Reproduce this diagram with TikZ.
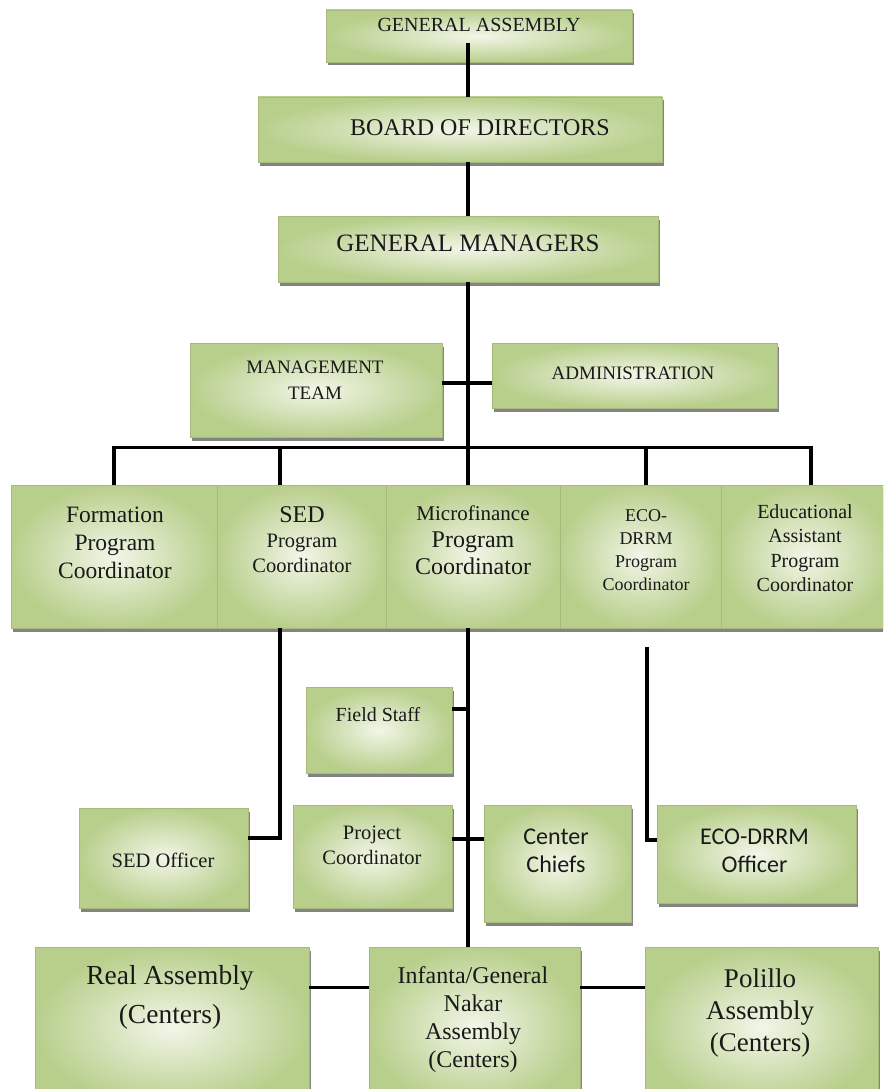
\documentclass[tikz,border=0pt]{standalone}
\usepackage{fontspec}
\setmainfont{Liberation Serif}
\newfontfamily\calibri{Carlito}
\usetikzlibrary{shadows}

\definecolor{boxgreen}{RGB}{184,207,140}
\definecolor{boxlite}{RGB}{242,246,232}

\tikzset{
	unit/.style={rectangle, inner sep=0pt, shade, inner color=boxlite, outer color=boxgreen,
		draw=boxgreen!90!black, line width=0.4pt,
		drop shadow={shadow xshift=2pt, shadow yshift=-3.5pt, fill=black!75, opacity=.65}},
	txt/.style={align=center, inner sep=0pt, text=black!90},
	link/.style={line width=3.2pt}
}

\begin{document}
\begin{tikzpicture}[x=1pt, y=-1pt]
	\useasboundingbox (0,0) rectangle (883,1089);
	\clip (0,0) rectangle (883,1089);

	% boxes
	\node[unit, minimum width=306pt, minimum height=52pt] (ga) at (479,36) {};
	\node[unit, minimum width=404pt, minimum height=65pt] (bod) at (460,129.5) {};
	\node[unit, minimum width=380pt, minimum height=66pt] (gm) at (468,249) {};
	\node[unit, minimum width=252pt, minimum height=94pt] (mt) at (316,390) {};
	\node[unit, minimum width=285pt, minimum height=65pt] (adm) at (634.5,375.5) {};

	\node[unit, minimum width=206pt, minimum height=143pt] (fpc) at (114,556.5) {};
	\node[unit, minimum width=169pt, minimum height=143pt] (spc) at (301.5,556.5) {};
	\node[unit, minimum width=174pt, minimum height=143pt] (mpc) at (473,556.5) {};
	\node[unit, minimum width=161pt, minimum height=143pt] (epc) at (640.5,556.5) {};
	\node[unit, minimum width=169pt, minimum height=143pt] (apc) at (805.5,556.5) {};

	\node[unit, minimum width=146pt, minimum height=86pt] (fs) at (379,730) {};
	\node[unit, minimum width=169pt, minimum height=100pt] (sedo) at (163.5,858) {};
	\node[unit, minimum width=159pt, minimum height=103pt] (pc) at (372.5,856.5) {};
	\node[unit, minimum width=147pt, minimum height=117pt] (cc) at (557.5,863.5) {};
	\node[unit, minimum width=199pt, minimum height=98pt] (eo) at (756.5,854) {};

	\node[unit, minimum width=274pt, minimum height=160pt] (real) at (172,1027) {};
	\node[unit, minimum width=211pt, minimum height=160pt] (inf) at (474.5,1027) {};
	\node[unit, minimum width=233pt, minimum height=160pt] (pol) at (761.5,1027) {};

	% texts
	\node[txt, font=\fontsize{20}{24}\selectfont] (ga-t) at (479,25) {GENERAL ASSEMBLY};
	\node[txt, font=\fontsize{24}{28}\selectfont] (bod-t) at (480,128) {BOARD OF DIRECTORS};
	\node[txt, font=\fontsize{25}{29}\selectfont] (gm-t) at (468,243) {GENERAL MANAGERS};
	\node[txt, font=\fontsize{19}{26}\selectfont] (mt-t) at (315,380) {MANAGEMENT\\TEAM};
	\node[txt, font=\fontsize{19}{23}\selectfont] (adm-t) at (633,373) {ADMINISTRATION};

	\node[txt, font=\fontsize{23.5}{28}\selectfont] (fpc-t) at (115,543) {Formation\\Program\\Coordinator};
	\node[txt, font=\fontsize{20.5}{25}\selectfont] (spc-t) at (302,540)
		{{\fontsize{24}{25}\selectfont SED}\\Program\\Coordinator};
	\node[txt, font=\fontsize{24}{27}\selectfont] (mpc-t) at (473,540)
		{{\fontsize{21}{27}\selectfont Microfinance}\\Program\\Coordinator};
	\node[txt, font=\fontsize{18}{23}\selectfont] (epc-t) at (646,550) {ECO-\\DRRM\\Program\\Coordinator};
	\node[txt, font=\fontsize{20}{24.5}\selectfont] (apc-t) at (805,548) {Educational\\Assistant\\Program\\Coordinator};

	\node[txt, font=\fontsize{20}{24}\selectfont] (fs-t) at (378,715) {Field Staff};
	\node[txt, font=\fontsize{20.5}{24}\selectfont] (sedo-t) at (163,860) {SED Officer};
	\node[txt, font=\fontsize{20.5}{25}\selectfont] (pc-t) at (372,845) {Project\\Coordinator};
	\node[txt, font=\calibri\fontsize{24}{28}\selectfont] (cc-t) at (556,851) {Center\\Chiefs};
	\node[txt, font=\calibri\fontsize{24}{28}\selectfont] (eo-t) at (754.5,851) {ECO-DRRM\\Officer};

	\node[txt, font=\fontsize{27.5}{39}\selectfont] (real-t) at (170,997) {Real Assembly\\(Centers)};
	\node[txt, font=\fontsize{24}{28}\selectfont] (inf-t) at (473,1020) {Infanta/General\\Nakar\\Assembly\\(Centers)};
	\node[txt, font=\fontsize{27}{32}\selectfont] (pol-t) at (760,1013) {Polillo\\Assembly\\(Centers)};

	% connectors
	\coordinate (top) at (468,43);
	\coordinate (hub) at (468,383);
	\coordinate (bar) at (468,448);
	\draw[link] (top) -- (gm.north |- bod.north);
	\draw[link] (gm.north |- bod.south) -- (gm.north);
	\draw[link] (gm.south) -- (bar);
	\draw[link] (mt.east |- hub) -- (adm.west |- hub);

	\draw[link] (fpc.north) -- ++(0,-37) -| ([xshift=5.5pt]apc.north);
	\draw[link] ([xshift=-21.5pt]spc.north) -- ++(0,-37);
	\draw[link] (bar) -- (bar |- mpc.north);
	\draw[link] ([xshift=5.5pt]epc.north) -- ++(0,-37);

	\draw[link] ([xshift=-21.5pt]spc.south) |- ([yshift=20pt]sedo.east);
	\draw[link] (bar |- mpc.south) -- (bar |- inf.north);
	\draw[link] ([yshift=21pt]fs.east) -- ++(16,0);
	\draw[link] ([yshift=17.5pt]pc.east) -- ([yshift=24.5pt]cc.west);
	\draw[link] ([xshift=6.5pt,yshift=-19pt]epc.south) |- ([yshift=14pt]eo.west);

	\draw[link] ([yshift=-41pt]real.north east) -- ([yshift=-41pt]inf.north west);
	\draw[link] ([yshift=-41pt]inf.north east) -- ([yshift=-41pt]pol.north west);
\end{tikzpicture}
\end{document}
